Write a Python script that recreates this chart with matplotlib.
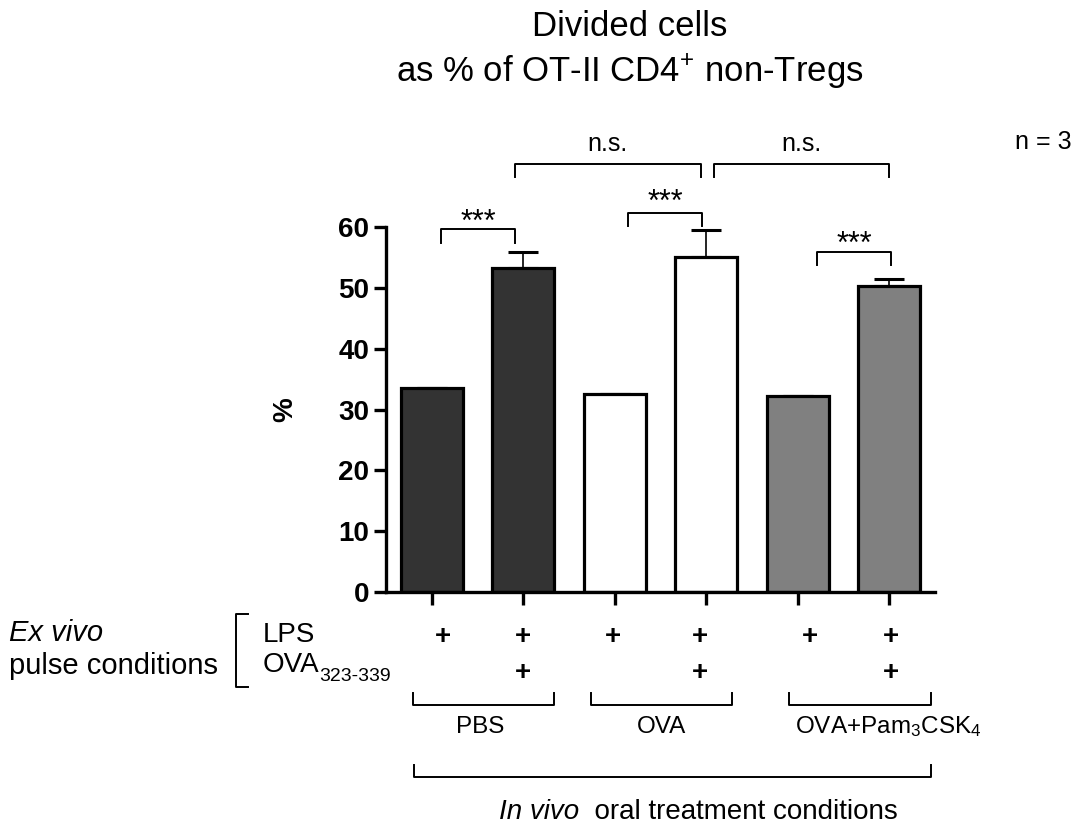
import numpy as np
import matplotlib
matplotlib.use('Agg')
import matplotlib.pyplot as plt
from matplotlib import transforms

plt.rcParams['font.family'] = ['Liberation Sans', 'DejaVu Sans']
plt.rcParams['mathtext.fontset'] = 'custom'
plt.rcParams['mathtext.rm'] = 'Liberation Sans'
plt.rcParams['mathtext.default'] = 'regular'

# data
values = [33.5, 53.3, 32.6, 55.0, 32.2, 50.3]
errors = [0.0, 2.6, 0.0, 4.5, 0.0, 1.2]
colors = ['#333333', '#333333', '#ffffff', '#ffffff', '#808080', '#808080']
lps = [1, 1, 1, 1, 1, 1]
ova_peptide = [0, 1, 0, 1, 0, 1]
groups = ['PBS', 'OVA', 'OVA+Pam$_3$CSK$_4$']
yticks = [0, 10, 20, 30, 40, 50, 60]

W, H = 1078, 826
fig = plt.figure(figsize=(W / 100, H / 100), dpi=100)
ax = fig.add_axes([386 / W, 1 - 592 / H, (935 - 386) / W, (592 - 227) / H])
# overlay in pixel coords for the annotations around the axes
ov = fig.add_axes([0, 0, 1, 1], zorder=-1)
ov.set_xlim(0, W)
ov.set_ylim(H, 0)
ov.axis('off')

x = np.arange(len(values))
ax.bar(x, values, width=0.68, color=colors, edgecolor='black', linewidth=2.3, zorder=2)
ax.errorbar(x, values, yerr=[np.zeros(len(errors)), errors], fmt='none', ecolor='black',
            elinewidth=1.2, capsize=11, capthick=2.2, zorder=1)

ax.set_xlim(-0.5, 5.5)
ax.set_ylim(0, 60)
ax.set_yticks(yticks)
ax.set_xticks(x)
ax.set_xticklabels([])
for s in ['top', 'right']:
    ax.spines[s].set_visible(False)
for s in ['left', 'bottom']:
    ax.spines[s].set_linewidth(2.4)
ax.tick_params(width=2.4, length=9, labelsize=20, pad=3)
for lab in ax.get_yticklabels():
    lab.set_fontweight('bold')

ov.text(285, 410, '%', rotation=90, ha='center', va='center', fontsize=20, fontweight='bold')


def bracket(x0, x1, ytop, ybot, label, ty, fs):
    ax.plot([x0, x0, x1, x1], [ybot, ytop, ytop, ybot], color='black', lw=1.4, clip_on=False)
    ax.text((x0 + x1) / 2, ty, label, ha='center', va='center', fontsize=fs, clip_on=False)


bracket(0.10, 0.91, 59.6, 57.4, '***', 60.6, 22)
bracket(2.15, 2.95, 62.3, 60.2, '***', 63.9, 22)
bracket(4.21, 5.02, 55.9, 53.8, '***', 57.0, 22)
bracket(0.91, 2.94, 70.4, 68.2, 'n.s.', 73.6, 18)
bracket(3.09, 5.00, 70.4, 68.2, 'n.s.', 73.6, 18)

# title and n
ov.text(630, 26, 'Divided cells', ha='center', va='center', fontsize=25)
ov.text(630, 72, 'as % of OT-II CD4$^{+}$ non-Tregs', ha='center', va='center', fontsize=25)
ov.text(1015, 142, 'n = 3', ha='left', va='center', fontsize=18)

# + signs under the bars
blend = transforms.blended_transform_factory(ax.transData, ov.transData)
plus_dx = [0.12, 0.0, -0.02, -0.07, 0.13, 0.02]
for i in x:
    if lps[i]:
        ax.text(i + plus_dx[i], 637, '+', transform=blend, ha='center', va='center',
                fontsize=20, fontweight='bold', clip_on=False)
    if ova_peptide[i]:
        ax.text(i + plus_dx[i], 673, '+', transform=blend, ha='center', va='center',
                fontsize=20, fontweight='bold', clip_on=False)

# ex vivo labels
ov.text(9, 633, 'Ex vivo', style='italic', ha='left', va='center', fontsize=21)
ov.text(9, 666, 'pulse conditions', ha='left', va='center', fontsize=21)
ov.plot([248, 236, 236, 248], [614, 614, 687, 687], color='black', lw=1.4)
ov.text(263, 635, 'LPS', ha='left', va='center', fontsize=20)
t = ov.text(263, 665, 'OVA', ha='left', va='center', fontsize=20)
ov.annotate('323-339', xy=(1, 0.05), xycoords=t, ha='left', va='center', fontsize=14)

# group brackets
spans = [(413, 554), (591, 732), (789, 931)]
label_x = [480, 662, 888]
for (a, b), g, lx in zip(spans, groups, label_x):
    ov.plot([a, a, b, b], [693, 705, 705, 693], color='black', lw=1.4)
    ov.text(lx, 727, g, ha='center', va='center', fontsize=17.5)

ov.plot([414, 414, 931, 931], [765, 777, 777, 765], color='black', lw=1.4)
t2 = ov.text(499, 812, 'In vivo', style='italic', ha='left', va='center', fontsize=20)
ov.annotate('  oral treatment conditions', xy=(1, 0.5), xycoords=t2, ha='left', va='center', fontsize=20)

fig.savefig('out.png', dpi=100)
